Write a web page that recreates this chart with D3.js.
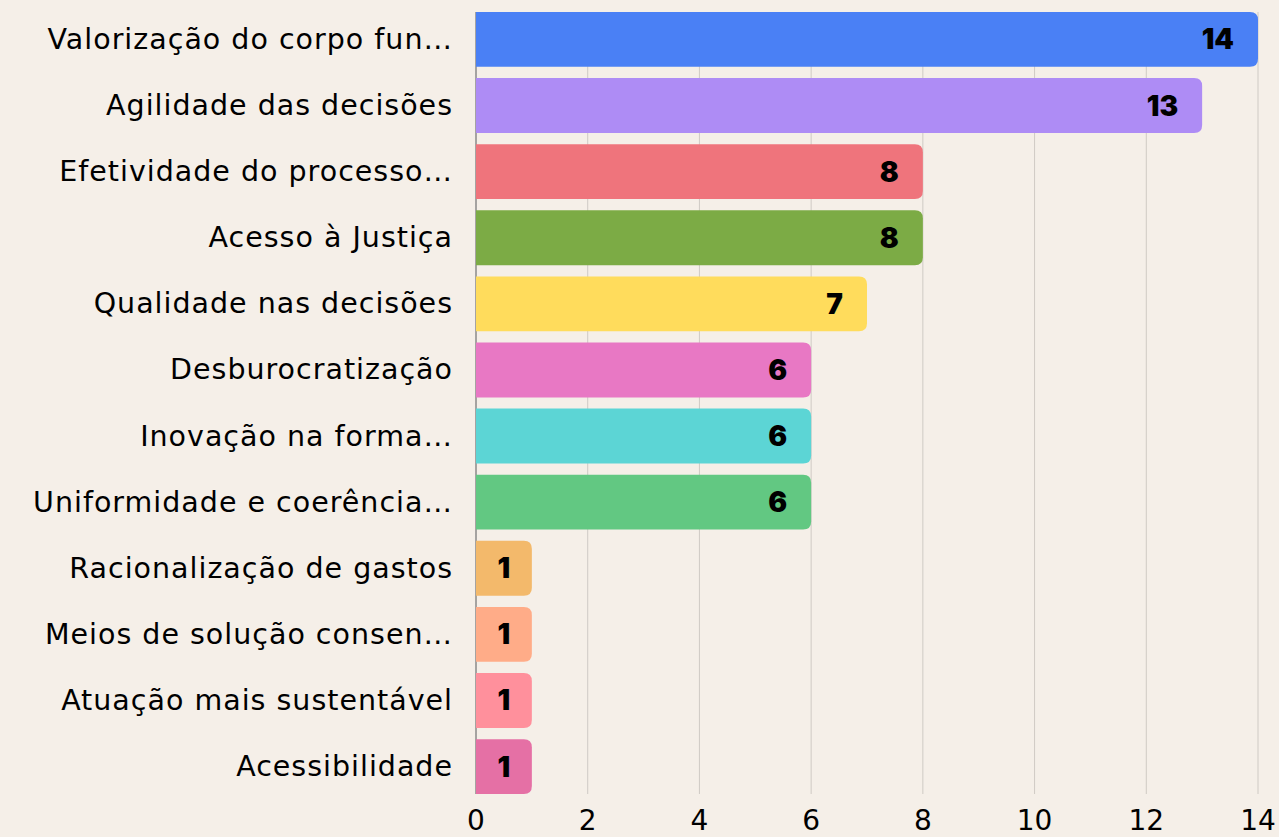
<!DOCTYPE html>
<html><head><meta charset="utf-8">
<script src="https://cdn.jsdelivr.net/npm/d3@7"></script>
<style>
html,body{margin:0;padding:0;background:#f5efe8;}
svg{display:block;}
</style></head>
<body>
<svg id="chart" width="1279" height="837"></svg>
<script>
const categories = [
  "Valorização do corpo fun…",
  "Agilidade das decisões",
  "Efetividade do processo…",
  "Acesso à Justiça",
  "Qualidade nas decisões",
  "Desburocratização",
  "Inovação na forma…",
  "Uniformidade e coerência…",
  "Racionalização de gastos",
  "Meios de solução consen…",
  "Atuação mais sustentável",
  "Acessibilidade"
];
const values = [14, 13, 8, 8, 7, 6, 6, 6, 1, 1, 1, 1];
const colors = ["#4a80f5","#ae8cf5","#ef747c","#7cab45","#ffdc5c","#e878c4","#5cd5d5","#62c882","#f3b96b","#ffac88","#ff909c","#e570a5"];
const xTicks = [0, 2, 4, 6, 8, 10, 12, 14];

const svg = d3.select("#chart");
const x = d3.scaleLinear().domain([0, 14]).range([476, 1258]);
const y = d3.scaleBand().domain(categories).range([12, 794]).paddingInner(0.17).paddingOuter(0);

// grid
svg.append("g").selectAll("line").data(xTicks.filter(d => d > 0)).join("line")
  .attr("x1", d => x(d)).attr("x2", d => x(d))
  .attr("y1", 12).attr("y2", 794)
  .attr("stroke", "#cfcac4").attr("stroke-width", 1);
svg.append("line").attr("x1", x(0)).attr("x2", x(0)).attr("y1", 12).attr("y2", 794)
  .attr("stroke", "#8a8a8a").attr("stroke-width", 1.5);

// bars with rounded right corners
const r = 8;
function barPath(v, cat) {
  const x0 = x(0), x1 = x(v), y0 = y(cat), h = y.bandwidth();
  const rr = Math.min(r, (x1 - x0) / 2, h / 2);
  return `M${x0},${y0}H${x1 - rr}Q${x1},${y0} ${x1},${y0 + rr}V${y0 + h - rr}Q${x1},${y0 + h} ${x1 - rr},${y0 + h}H${x0}Z`;
}
svg.append("g").selectAll("path").data(categories).join("path")
  .attr("d", (c, i) => barPath(values[i], c))
  .attr("fill", (c, i) => colors[i]);

// value labels
svg.append("g").selectAll("text").data(categories).join("text")
  .attr("x", (c, i) => values[i] <= 1 ? (x(0) + x(values[i])) / 2 : x(values[i]) - 24)
  .attr("y", c => y(c) + y.bandwidth() / 2)
  .attr("text-anchor", (c, i) => values[i] <= 1 ? "middle" : "end")
  .attr("dominant-baseline", "central")
  .attr("font-family", "Inter, 'DejaVu Sans', sans-serif")
  .attr("font-weight", 900)
  .attr("font-size", 28)
  .attr("fill", "#000")
  .text((c, i) => values[i]);

// category labels
svg.append("g").selectAll("text").data(categories).join("text")
  .attr("x", 453)
  .attr("y", c => y(c) + y.bandwidth() / 2)
  .attr("text-anchor", "end")
  .attr("dominant-baseline", "central")
  .attr("font-family", "'DejaVu Sans', sans-serif")
  .attr("font-size", 28.5)
  .attr("letter-spacing", 1.0)
  .attr("fill", "#000")
  .text(c => c);

// x tick labels
svg.append("g").selectAll("text").data(xTicks).join("text")
  .attr("x", d => x(d))
  .attr("y", 820)
  .attr("text-anchor", "middle")
  .attr("dominant-baseline", "central")
  .attr("font-family", "'DejaVu Sans', sans-serif")
  .attr("font-size", 28)
  .attr("fill", "#000")
  .text(d => d);
</script>
</body></html>
